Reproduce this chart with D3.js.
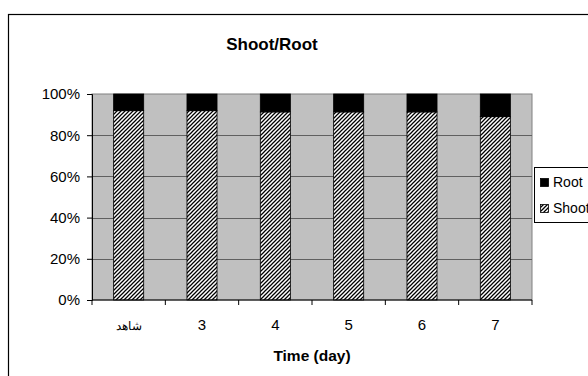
<!DOCTYPE html>
<html><head><meta charset="utf-8">
<script src="https://cdn.jsdelivr.net/npm/d3@7"></script>
<style>
html,body{margin:0;padding:0;background:#fff;}
text{font-family:"Liberation Sans",Arial,sans-serif;}
</style></head>
<body><svg id="c" width="588" height="376"></svg>
<script>
const categories = ["شاهد", "3", "4", "5", "6", "7"];
const shootValues = [91.9, 91.9, 91.3, 91.3, 91.3, 89.0];
const rootValues = [8.1, 8.1, 8.7, 8.7, 8.7, 11.0];
const yTickLabels = ["0%", "20%", "40%", "60%", "80%", "100%"];
const seriesNames = ["Shoot", "Root"];

const svg = d3.select("#c");
const defs = svg.append("defs");
const pat = defs.append("pattern").attr("id","hatch").attr("patternUnits","userSpaceOnUse")
  .attr("width",4).attr("height",4);
pat.append("rect").attr("width",4).attr("height",4).attr("fill","#fff");
pat.append("path").attr("d","M-1,1 L1,-1 M0,4 L4,0 M3,5 L5,3").attr("stroke","#000").attr("stroke-width",1.25);

// outer chart border
svg.append("rect").attr("x",8.5).attr("y",14.5).attr("width",600).attr("height",400)
  .attr("fill","#fff").attr("stroke","#000").attr("stroke-width",1.2);

const m = {left:92, top:94, right:532, bottom:300};
const x = d3.scaleBand().domain(categories).range([m.left, m.right]).paddingInner(0.59).paddingOuter(0.295);
const xb = d3.scaleBand().domain(categories).range([m.left, m.right]);
const y = d3.scaleLinear().domain([0,100]).range([m.bottom, m.top]);

svg.append("rect").attr("x",m.left).attr("y",m.top).attr("width",m.right-m.left).attr("height",m.bottom-m.top)
  .attr("fill","#c0c0c0").attr("stroke","#808080").attr("stroke-width",1);

// gridlines
svg.append("g").selectAll("line").data([20,40,60,80]).join("line")
  .attr("x1",m.left).attr("x2",m.right).attr("y1",d=>Math.round(y(d))+0.5).attr("y2",d=>Math.round(y(d))+0.5)
  .attr("stroke","#606060").attr("stroke-width",1.2);

const data = categories.map((c,i)=>({c, shoot:shootValues[i], root:rootValues[i]}));
const stack = d3.stack().keys(["shoot","root"])(data);
const fills = {shoot:"url(#hatch)", root:"#000"};
svg.append("g").selectAll("g").data(stack).join("g")
  .attr("fill",s=>fills[s.key])
  .selectAll("rect").data(s=>s).join("rect")
  .attr("x",d=>x(d.data.c)).attr("width",x.bandwidth())
  .attr("y",d=>y(d[1])).attr("height",d=>y(d[0])-y(d[1]))
  .attr("stroke","#000").attr("stroke-width",0.8);

// y axis
const yAxis = d3.axisLeft(y).tickValues([0,20,40,60,80,100]).tickFormat((d,i)=>yTickLabels[i]).tickSize(5).tickPadding(7);
const gy = svg.append("g").attr("transform",`translate(${m.left},0)`).call(yAxis);
gy.select(".domain").attr("stroke","#000");
gy.selectAll("line").attr("stroke","#000");
gy.selectAll("text").attr("font-size",15).attr("fill","#000").attr("font-family","Liberation Sans, Arial");

// x axis
const gx = svg.append("g").attr("transform",`translate(0,${m.bottom})`);
gx.append("line").attr("x1",m.left).attr("x2",m.right).attr("stroke","#000");
const bounds = categories.map(c=>xb(c)).concat([m.right]);
gx.selectAll("line.t").data(bounds).join("line").attr("class","t")
  .attr("x1",d=>d).attr("x2",d=>d).attr("y1",0).attr("y2",5).attr("stroke","#000");
gx.selectAll("text").data(categories).join("text")
  .attr("x",d=>xb(d)+xb.bandwidth()/2).attr("y",30).attr("text-anchor","middle")
  .attr("font-size",d=>/^[0-9]+$/.test(d)?15:12).attr("fill","#000").text(d=>d);

svg.append("text").attr("x",312).attr("y",361).attr("text-anchor","middle")
  .attr("font-size",15.5).attr("font-weight","bold").text("Time (day)");
svg.append("text").attr("x",272).attr("y",50).attr("text-anchor","middle")
  .attr("font-size",17).attr("font-weight","bold").text("Shoot/Root");

// legend
const lg = svg.append("g");
lg.append("rect").attr("x",534.5).attr("y",167.5).attr("width",80).attr("height",55)
  .attr("fill","#fff").attr("stroke","#000").attr("stroke-width",1);
const legItems = [{name:seriesNames[1], fill:"#000", y:187},{name:seriesNames[0], fill:"url(#hatch)", y:213}];
legItems.forEach(it=>{
  lg.append("rect").attr("x",540.5).attr("y",it.y-8.5).attr("width",8).attr("height",8)
    .attr("fill",it.fill).attr("stroke","#000").attr("stroke-width",0.8);
  lg.append("text").attr("x",553).attr("y",it.y).attr("font-size",14).text(it.name);
});
</script></body></html>
